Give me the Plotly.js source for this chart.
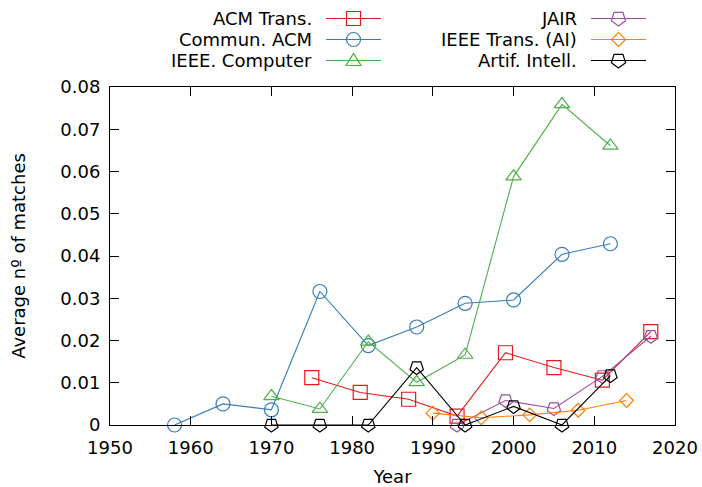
<!DOCTYPE html>
<html>
<head>
<meta charset="utf-8">
<script src="https://cdn.plot.ly/plotly-3.0.1.min.js"></script>
<style>html,body{margin:0;padding:0;background:#fff;}#chart{width:702px;height:487px;}</style>
</head>
<body>
<div id="chart"></div>
<script>
// ---- data ----
const seriesNames = ["ACM Trans.", "Commun. ACM", "IEEE. Computer", "JAIR", "IEEE Trans. (AI)", "Artif. Intell."];

const acmTransYears = [1975, 1981, 1987, 1993, 1999, 2005, 2011, 2017];
const acmTransVals  = [0.0112, 0.0077, 0.0061, 0.0021, 0.0171, 0.0136, 0.0106, 0.0221];

const communYears = [1958, 1964, 1970, 1976, 1982, 1988, 1994, 2000, 2006, 2012];
const communVals  = [0.0000, 0.0050, 0.0036, 0.0316, 0.0188, 0.0232, 0.0288, 0.0296, 0.0404, 0.0429];

const computerYears = [1970, 1976, 1982, 1988, 1994, 2000, 2006, 2012];
const computerVals  = [0.0068, 0.0038, 0.0197, 0.0101, 0.0166, 0.0588, 0.0759, 0.0661];

const jairYears = [1993, 1999, 2005, 2011, 2017];
const jairVals  = [0.0000, 0.0058, 0.0039, 0.0115, 0.0210];

const ieeeAIYears = [1990, 1996, 2002, 2008, 2014];
const ieeeAIVals  = [0.0028, 0.0017, 0.0024, 0.0035, 0.0058];

const artifYears = [1970, 1976, 1982, 1988, 1994, 2000, 2006, 2012];
const artifVals  = [0.0000, 0.0000, 0.0000, 0.0136, 0.0000, 0.0044, 0.0000, 0.0117];

const xTickVals = [1950, 1960, 1970, 1980, 1990, 2000, 2010, 2020];
const yTickVals = [0, 0.01, 0.02, 0.03, 0.04, 0.05, 0.06, 0.07, 0.08];
const yTickText = ["0", "0.01", "0.02", "0.03", "0.04", "0.05", "0.06", "0.07", "0.08"];

// ---- styles ----
const colors  = ["#e41a1c", "#377eb8", "#4daf4a", "#984ea3", "#ff7f00", "#000000"];
const symbols = ["square-open", "circle-open", "triangle-up-open", "pentagon-open", "diamond-open", "pentagon-open"];
const sizes   = [14, 14, 13.5, 14, 10.5, 14];
const angles  = [0, 0, 0, 180, 0, 180];
const xs = [acmTransYears, communYears, computerYears, jairYears, ieeeAIYears, artifYears];
const ys = [acmTransVals, communVals, computerVals, jairVals, ieeeAIVals, artifVals];

const FONT = "DejaVu Sans, Liberation Sans, sans-serif";

const traces = seriesNames.map((name, i) => ({
  type: "scatter",
  mode: "lines+markers",
  name: name,
  x: xs[i],
  y: ys[i],
  cliponaxis: false,
  line: {color: colors[i], width: 1.1},
  marker: {symbol: symbols[i], size: sizes[i], angle: angles[i], color: colors[i], line: {color: colors[i], width: 1.2}},
  showlegend: false
}));

// ---- custom gnuplot-style key (text left, sample right) ----
const W = 702, H = 487, ML = 110, MR = 27, MT = 87, MB = 62;
const PW = W - ML - MR, PH = H - MT - MB;
const px = p => (p - ML) / PW;
const py = p => (H - MB - p) / PH;

const keyTextRight = [314, 579];
const keyLineX = [[326, 381], [591, 646]];
const keyRowY = [18.5, 39.5, 60.5];

const markerPaths = {
  "square-open": "M-7,-7L7,-7L7,7L-7,7Z",
  "circle-open": null,
  "triangle-up-open": "M-7.5,-5L7.5,-5L0,7Z",
  "pentagon-open": "M0,-7.5L7.13,-2.32L4.41,6.07L-4.41,6.07L-7.13,-2.32Z",
  "diamond-open": "M0,-7L7,0L0,7L-7,0Z"
};

const annotations = [];
const shapes = [];
seriesNames.forEach((name, i) => {
  const col = Math.floor(i / 3), row = i % 3;
  const yy = py(keyRowY[row]);
  annotations.push({
    text: name, xref: "paper", yref: "paper",
    x: px(keyTextRight[col]), y: yy, xanchor: "right", yanchor: "middle",
    showarrow: false, font: {family: FONT, size: 18, color: "#000"}
  });
  shapes.push({
    type: "line", xref: "paper", yref: "paper",
    x0: px(keyLineX[col][0]), x1: px(keyLineX[col][1]), y0: yy, y1: yy,
    line: {color: colors[i], width: 1.1}
  });
  const cx = px((keyLineX[col][0] + keyLineX[col][1]) / 2);
  const p = markerPaths[symbols[i]];
  if (p === null) {
    shapes.push({type: "circle", xref: "paper", yref: "paper", xsizemode: "pixel", ysizemode: "pixel",
      xanchor: cx, yanchor: yy, x0: -7, x1: 7, y0: -7, y1: 7,
      fillcolor: "rgba(0,0,0,0)", line: {color: colors[i], width: 1.2}});
  } else {
    shapes.push({type: "path", xref: "paper", yref: "paper", xsizemode: "pixel", ysizemode: "pixel",
      xanchor: cx, yanchor: yy, path: p,
      fillcolor: "rgba(0,0,0,0)", line: {color: colors[i], width: 1.2}});
  }
});

const axisCommon = {
  ticks: "inside", ticklen: 9, tickwidth: 1, tickcolor: "#000",
  showline: true, linecolor: "#000", linewidth: 1, mirror: "ticks",
  showgrid: false, zeroline: false,
  tickfont: {family: FONT, size: 18, color: "#000"},
  automargin: false
};

const layout = {
  width: W, height: H,
  margin: {l: ML, r: MR, t: MT, b: MB, pad: 0},
  paper_bgcolor: "#fff", plot_bgcolor: "#fff",
  font: {family: FONT, size: 18, color: "#000"},
  showlegend: false,
  xaxis: Object.assign({}, axisCommon, {
    range: [1950, 2020], tickvals: xTickVals, ticktext: xTickVals.map(String),
    ticklabelstandoff: 6,
    title: {text: "Year", font: {family: FONT, size: 18, color: "#000"}, standoff: 14}
  }),
  yaxis: Object.assign({}, axisCommon, {
    range: [0, 0.08], tickvals: yTickVals, ticktext: yTickText,
    ticklabelstandoff: 5,
    title: {text: "Average nº of matches", font: {family: FONT, size: 18, color: "#000"}, standoff: 30}
  }),
  annotations: annotations,
  shapes: shapes
};

Plotly.newPlot("chart", traces, layout, {displayModeBar: false, staticPlot: true});
</script>
</body>
</html>
